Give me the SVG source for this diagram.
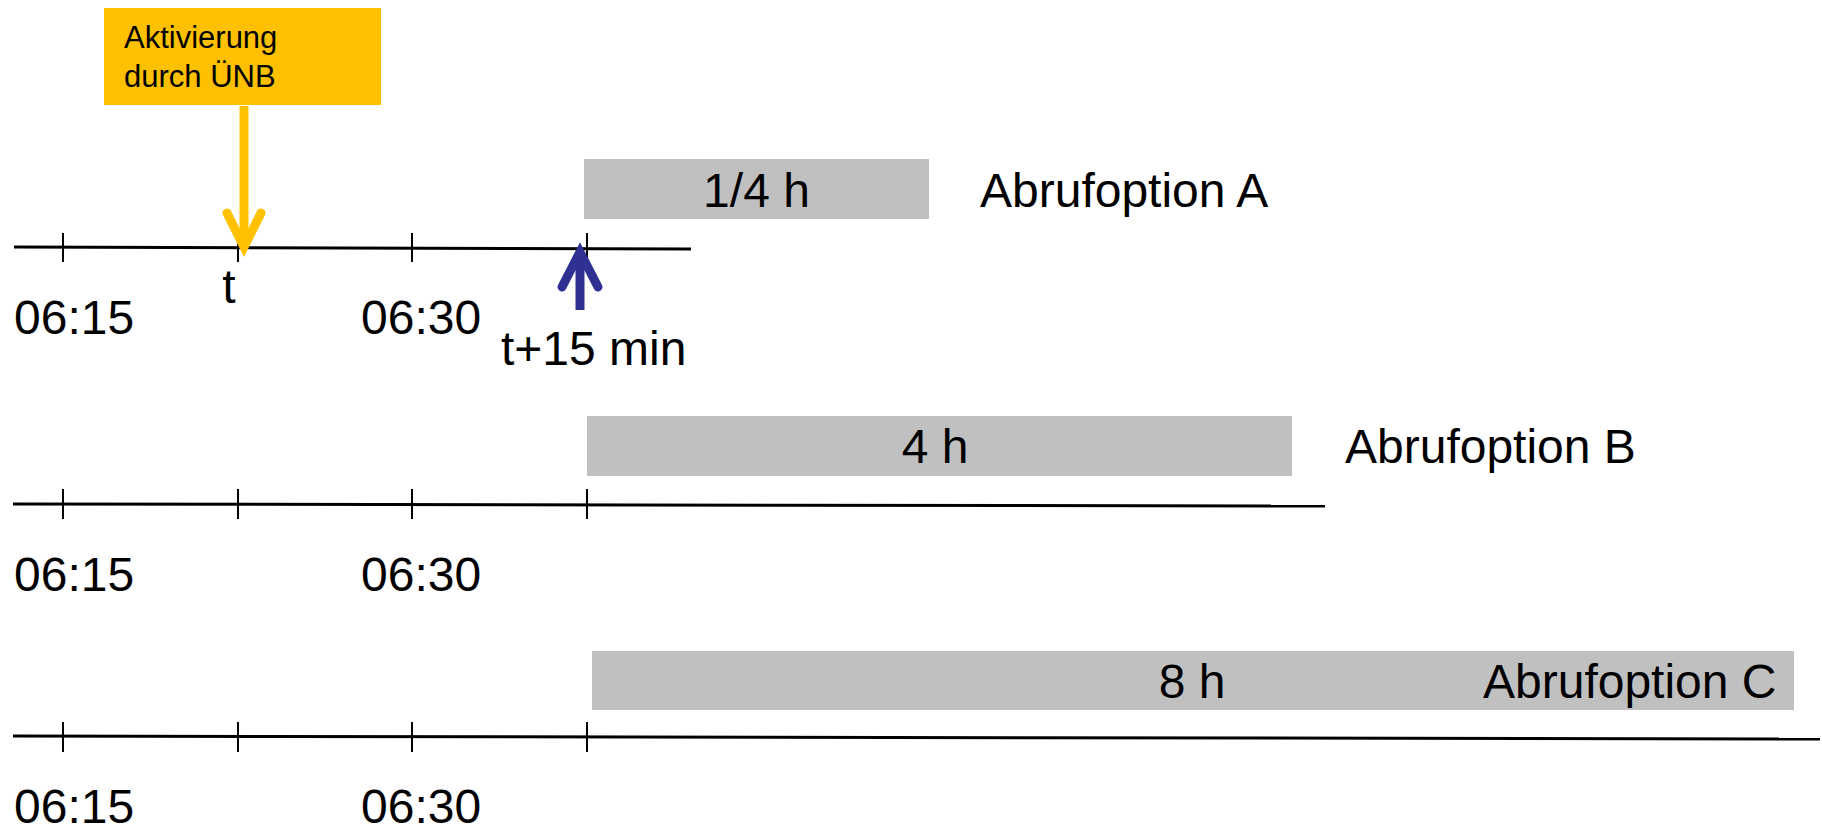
<svg xmlns="http://www.w3.org/2000/svg" width="1822" height="831" viewBox="0 0 1822 831">
<defs>
<style>
.lbl{font-family:"Liberation Sans",Arial,sans-serif;font-size:48px;fill:#000}
.small{font-family:"Liberation Sans",Arial,sans-serif;font-size:31px;fill:#000}
.axis{stroke:#000;stroke-width:3;fill:none}
.tick{stroke:#000;stroke-width:2;fill:none}
.bar{fill:#C0C0C0}
.yarrow{stroke:#FFC000;stroke-width:9;fill:none;stroke-linecap:round;stroke-linejoin:miter}
.barrow{stroke:#2E3192;stroke-width:9;fill:none;stroke-linecap:round;stroke-linejoin:miter}
</style>
</defs>
<rect width="1822" height="831" fill="#fff"/>

<g id="timeline-A">
<line class="axis" x1="14" y1="247" x2="691" y2="249"/>
<line class="tick" x1="63" y1="233" x2="63" y2="262"/>
<line class="tick" x1="238" y1="233" x2="238" y2="262"/>
<line class="tick" x1="412" y1="233" x2="412" y2="262"/>
<line class="tick" x1="587" y1="233" x2="587" y2="262"/>
<text class="lbl" x="14" y="334">06:15</text>
<text class="lbl" x="229" y="303" text-anchor="middle">t</text>
<text class="lbl" x="361" y="334">06:30</text>
<text class="lbl" x="501" y="365">t+15 min</text>
</g>

<g id="bar-A">
<rect class="bar" x="584" y="159" width="345" height="60"/>
<text class="lbl" x="756.5" y="207" text-anchor="middle">1/4 h</text>
<text class="lbl" x="980" y="207">Abrufoption A</text>
</g>

<g id="activation">
<rect x="104" y="8" width="277" height="97" fill="#FFC000"/>
<text class="small" x="124" y="48">Aktivierung</text>
<text class="small" x="124" y="87">durch ÜNB</text>
</g>

<g id="connectors">
<line class="yarrow" x1="244" y1="106" x2="244" y2="244" style="stroke-linecap:butt"/>
<polyline class="yarrow" points="227,213 244,247 261,213"/>
<line class="barrow" x1="580" y1="310" x2="580" y2="256" style="stroke-linecap:butt"/>
<polyline class="barrow" points="562,287 580,252 598,287"/>
</g>

<g id="timeline-B">
<line class="axis" x1="13" y1="504" x2="1325" y2="506"/>
<line class="tick" x1="63" y1="489" x2="63" y2="519"/>
<line class="tick" x1="238" y1="489" x2="238" y2="519"/>
<line class="tick" x1="412" y1="489" x2="412" y2="519"/>
<line class="tick" x1="587" y1="489" x2="587" y2="519"/>
<text class="lbl" x="14" y="591">06:15</text>
<text class="lbl" x="361" y="591">06:30</text>
</g>

<g id="bar-B">
<rect class="bar" x="587" y="416" width="705" height="60"/>
<text class="lbl" x="935" y="463" text-anchor="middle">4 h</text>
<text class="lbl" x="1345" y="463">Abrufoption B</text>
</g>

<g id="timeline-C">
<line class="axis" x1="13" y1="736" x2="1820" y2="739"/>
<line class="tick" x1="63" y1="722" x2="63" y2="752"/>
<line class="tick" x1="238" y1="722" x2="238" y2="752"/>
<line class="tick" x1="412" y1="722" x2="412" y2="752"/>
<line class="tick" x1="587" y1="722" x2="587" y2="752"/>
<text class="lbl" x="14" y="823">06:15</text>
<text class="lbl" x="361" y="823">06:30</text>
</g>

<g id="bar-C">
<rect class="bar" x="592" y="651" width="1202" height="59"/>
<text class="lbl" x="1192" y="698" text-anchor="middle">8 h</text>
<text class="lbl" x="1483" y="698">Abrufoption C</text>
</g>
</svg>
